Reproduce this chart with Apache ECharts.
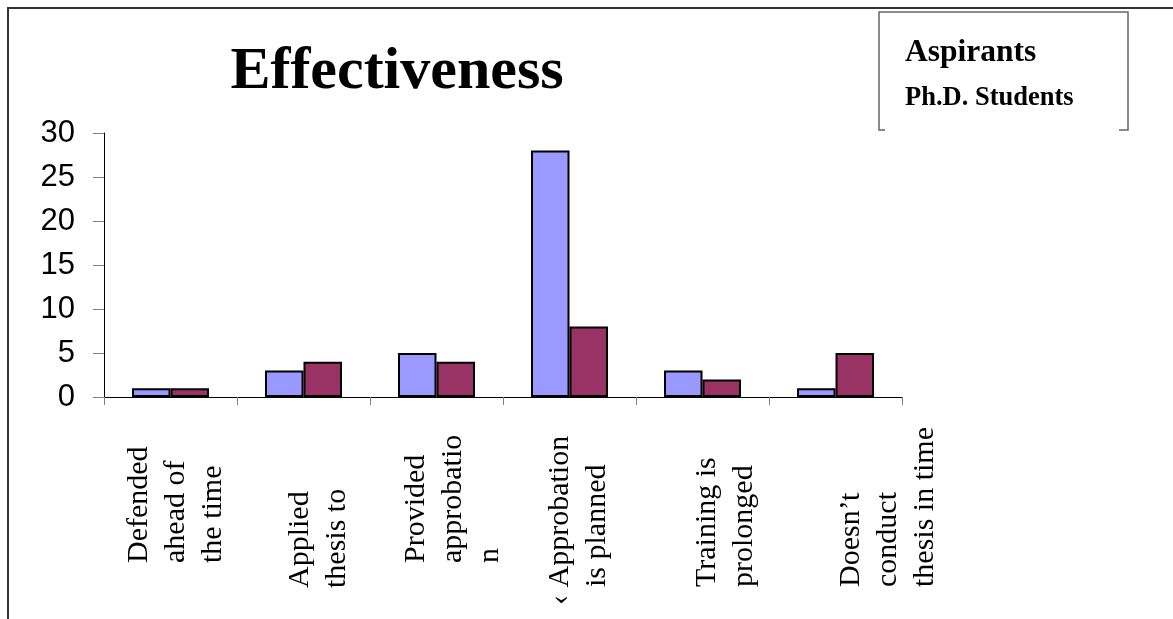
<!DOCTYPE html>
<html>
<head>
<meta charset="utf-8">
<script src="https://cdn.jsdelivr.net/npm/echarts@6/dist/echarts.min.js"></script>
<style>
  html, body { margin: 0; padding: 0; background: #ffffff; }
  #chart { width: 1173px; height: 619px; }
</style>
</head>
<body>
<div id="chart"></div>
<script>
// Category labels (line breaks as they wrap under the axis)
const categories = [
  'Defended\nahead of\nthe time',
  'Applied\nthesis to',
  'Provided\napprobatio\nn',
  '‹ Approbation\nis planned',
  'Training is\nprolonged',
  'Doesn’t\nconduct\nthesis in time'
];

// Series values
const seriesNames = ['Aspirants', 'Ph.D. Students'];
const aspirants = [1, 3, 5, 28, 3, 1];
const phdStudents = [1, 4, 4, 8, 2, 5];

// Value axis range
const yMin = 0;
const yMax = 30;
const yStep = 5;

// Label placement: sideways shift of each label block, and how far each line is raised
const labelShift = [5.5, 15.5, 16.5, 9, 23, 52.5];
const lineRaise = [[42, 42, 42], [17, 17], [42, 42, 42], [0, 18], [18, 18], [18, 18, 18]];

const labelFont = { fontFamily: 'Liberation Serif', fontSize: 30, lineHeight: 37, color: '#000' };

// One rich style per distinct line raise
const rich = {};
lineRaise.flat().forEach(function (r) {
  rich['r' + r] = Object.assign({ padding: [0, 0, 0, r] }, labelFont);
});

// Labels read upward from a common start point below the axis
const axisData = categories.map(function (c, i) {
  return {
    value: c,
    textStyle: {
      align: 'left',
      verticalAlign: 'middle',
      padding: [labelShift[i] * 2, 0, 0, 0]
    }
  };
});

const chart = echarts.init(document.getElementById('chart'), null, { renderer: 'canvas' });

chart.setOption({
  backgroundColor: '#ffffff',
  animation: false,
  title: {
    text: 'Effectiveness',
    left: 397,
    top: 42,
    textAlign: 'center',
    padding: 0,
    textStyle: { fontFamily: 'Liberation Serif', fontWeight: 'bold', fontSize: 60, color: '#000' }
  },
  legend: {
    orient: 'vertical',
    left: 899,
    top: 37,
    padding: 0,
    itemGap: 16,
    itemWidth: 0,
    itemHeight: 0,
    icon: 'rect',
    selectedMode: false,
    textStyle: { fontFamily: 'Liberation Serif', fontWeight: 'bold', color: '#000' },
    data: [
      { name: seriesNames[0], textStyle: { fontSize: 31.5 } },
      { name: seriesNames[1], textStyle: { fontSize: 26.5 } }
    ]
  },
  grid: {
    left: 104,
    top: 133,
    width: 798,
    height: 264,
    outerBoundsMode: 'none'
  },
  xAxis: {
    type: 'category',
    data: axisData,
    boundaryGap: true,
    axisLine: { lineStyle: { color: '#000', width: 1 } },
    axisTick: { show: true, length: 8, lineStyle: { color: '#808080', width: 1 } },
    axisLabel: {
      interval: 0,
      rotate: 90,
      margin: 208,
      hideOverlap: false,
      fontFamily: 'Liberation Serif',
      fontSize: 30,
      lineHeight: 37,
      color: '#000',
      rich: rich,
      formatter: function (value, index) {
        const lines = value.split('\n');
        const raise = lineRaise[index] || [];
        return lines.map(function (ln, k) {
          return '{r' + (raise[k] || 0) + '|' + ln + '}';
        }).join('\n');
      }
    },
    splitLine: { show: false }
  },
  yAxis: {
    type: 'value',
    min: yMin,
    max: yMax,
    interval: yStep,
    axisLine: { show: true, lineStyle: { color: '#000', width: 1 } },
    axisTick: { show: true, length: 11, lineStyle: { color: '#808080', width: 1 } },
    axisLabel: {
      margin: 29,
      fontFamily: 'Liberation Sans',
      fontSize: 31,
      color: '#000'
    },
    splitLine: { show: false }
  },
  series: [
    {
      name: seriesNames[0],
      type: 'bar',
      data: aspirants,
      barWidth: 38.5,
      barGap: '0%',
      itemStyle: { color: '#9999FF', borderColor: '#000', borderWidth: 2 }
    },
    {
      name: seriesNames[1],
      type: 'bar',
      data: phdStudents,
      barWidth: 38.5,
      barGap: '0%',
      itemStyle: { color: '#993366', borderColor: '#000', borderWidth: 2 }
    }
  ],
  graphic: [
    {
      // outer frame, top and left edges
      type: 'polyline',
      silent: true,
      shape: { points: [[8, 619], [8, 8], [1173, 8]] },
      style: { stroke: '#333', lineWidth: 2, fill: null }
    },
    {
      // legend box, open along the bottom
      type: 'polyline',
      silent: true,
      shape: { points: [[885, 130], [879, 130], [879, 12], [1128, 12], [1128, 130], [1119, 130]] },
      style: { stroke: '#666', lineWidth: 1.5, fill: null }
    }
  ]
});
</script>
</body>
</html>
